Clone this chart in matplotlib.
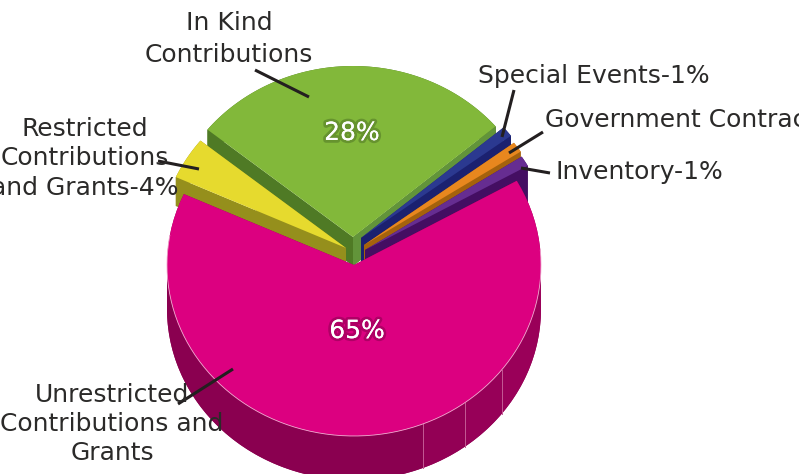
import numpy as np
import matplotlib
matplotlib.use("Agg")
import matplotlib.pyplot as plt
import matplotlib.patheffects as pe

# Revenue shares, counter-clockwise from the right edge of the pink slice
categories = ["Inventory", "Government Contract", "Special Events",
              "In Kind Contributions", "Restricted Contributions and Grants",
              "Unrestricted Contributions and Grants"]
shares = [1, 1, 1, 28, 4, 65]

top_colors = ["#662d91", "#e8871e", "#2b3990", "#82b83a", "#e6da2e", "#dc0080"]
wall_colors = ["#440e62", "#a5620c", "#1b2170", "#4f7a25", "#958f1c", "#90004f"]
# pie centre of each slice after pulling it out, and its thickness
centres = [(365, 250), (364, 245), (361, 238), (353, 237), (346, 248), (354, 265)]
depths = [38, 29, 29, 29, 29, 44]
draw_order = [3, 2, 1, 0, 4, 5]

rx, ry = 187, 171
start_angle = 29.5

plt.rcParams["font.family"] = ["Liberation Sans Narrow", "DejaVu Sans"]
fig = plt.figure(figsize=(7.99, 4.74), dpi=100)
ax = fig.add_axes([0, 0, 1, 1])
ax.set_xlim(0, 799)
ax.set_ylim(474, 0)
ax.axis("off")


def arc(c, a0, a1, n=80):
    t = np.radians(np.linspace(a0, a1, n))
    return c[0] + rx * np.cos(t), c[1] - ry * np.sin(t)


edges = start_angle + np.concatenate([[0], np.cumsum(shares)]) * 3.6

for i in draw_order:
    c, d = centres[i], depths[i]
    a0, a1 = edges[i], edges[i + 1]
    x, y = arc(c, a0, a1)
    # side walls first, the top face hides whatever faces backwards
    ax.fill(np.r_[x, x[::-1]], np.r_[y, y[::-1] + d], color=wall_colors[i], lw=0)
    for ex, ey in [(x[0], y[0]), (x[-1], y[-1])]:
        ax.fill([c[0], ex, ex, c[0]], [c[1], ey, ey + d, c[1] + d],
                color=wall_colors[i], lw=0)
    if i == 3:
        # the right cut of the green slice catches more light
        ax.fill([c[0], x[0], x[0], c[0]], [c[1], y[0], y[0] + d, c[1] + d],
                color="#62943a", lw=0)
    ax.fill(np.r_[c[0], x], np.r_[c[1], y], color=top_colors[i], lw=0)

# facets on the pink rim
pink_c, pink_d = centres[5], depths[5]
facets = [(180, 291.6, "#8a0050"), (291.6, 306.4, "#930055"),
          (306.4, 322.3, "#970058"), (322.3, 361, "#9a0059")]
for a0, a1, col in facets:
    x, y = arc(pink_c, a0, a1)
    ax.fill(np.r_[x, x[::-1]], np.r_[y, y[::-1] + pink_d], color=col, lw=0)
for a in [291.6, 306.4, 322.3]:
    x, y = arc(pink_c, a, a, 1)
    ax.plot([x[0], x[0]], [y[0], y[0] + pink_d], color="#c45a94", lw=0.7)
x, y = arc(pink_c, 170, 365)
ax.plot(x, y, color="#f3a5cf", lw=0.6)

# category labels, one entry per line of text
label_lines = ["In Kind", "Contributions", "Restricted", "Contributions",
               "and Grants-4%", "Unrestricted", "Contributions and", "Grants"]
label_x = [229, 229, 85, 85, 85, 112, 112, 112]
label_y = [23, 55, 129, 158, 188, 395, 424, 453]
for s, lx, ly in zip(label_lines, label_x, label_y):
    ax.text(lx, ly, s, ha="center", va="center", fontsize=18, color="#2b2a29")

side_labels = ["Special Events-1%", "Government Contract-1%", "Inventory-1%"]
side_x = [478, 545, 555]
side_y = [76, 120, 172]
for s, lx, ly in zip(side_labels, side_x, side_y):
    ax.text(lx, ly, s, ha="left", va="center", fontsize=18, color="#2b2a29")

leaders = [((255, 70), (309, 97)), ((514, 90), (502, 137)), ((543, 132), (509, 153)),
           ((550, 173), (521, 168)), ((158, 161), (199, 169)), ((178, 404), (233, 369))]
for p, q in leaders:
    ax.plot([p[0], q[0]], [p[1], q[1]], color="#231f20", lw=2.2, solid_capstyle="butt")

# percentages on the two big slices, white with a soft drop shadow
pct_labels = ["28%", "65%"]
pct_x = [352, 357]
pct_y = [133, 331]
shadow = ["#33501a", "#5c0034"]
for s, lx, ly, col in zip(pct_labels, pct_x, pct_y, shadow):
    ax.text(lx, ly, s, ha="center", va="center", fontsize=18, color="white",
            path_effects=[pe.withStroke(linewidth=4, foreground=col, alpha=0.35),
                          pe.SimpleLineShadow(offset=(1.5, -1.5), shadow_color=col, alpha=0.6),
                          pe.Normal()])

fig.savefig("out.png", dpi=100)
